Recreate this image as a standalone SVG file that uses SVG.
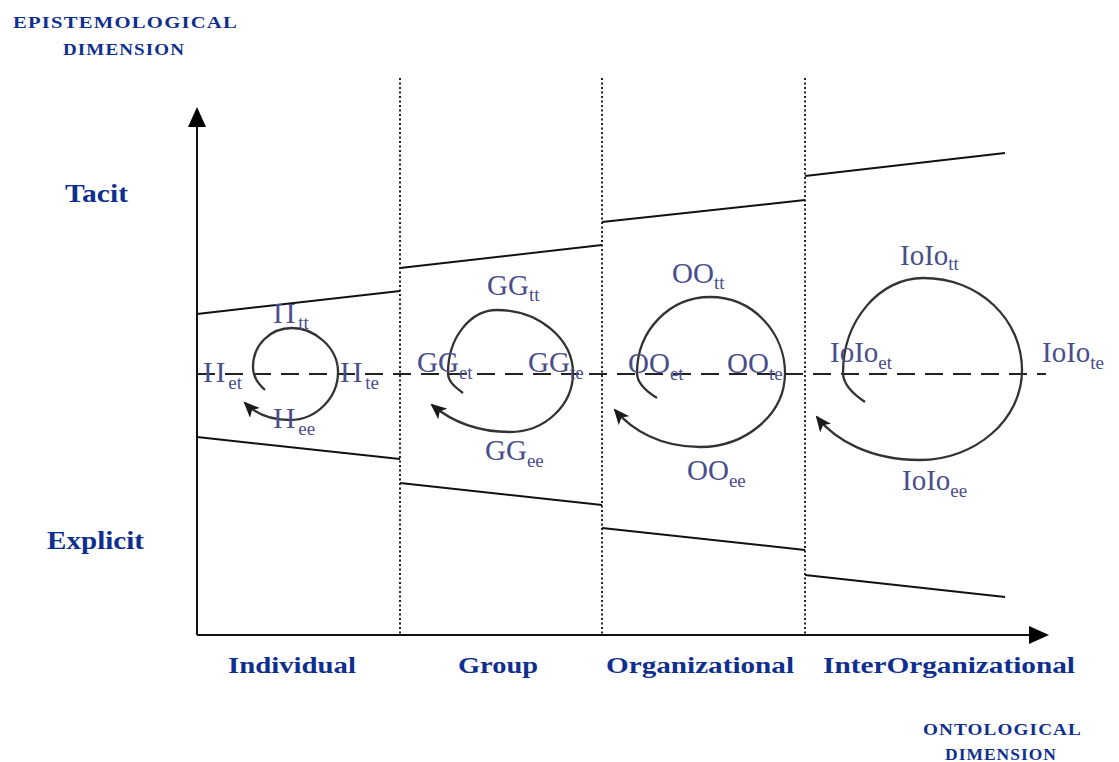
<svg xmlns="http://www.w3.org/2000/svg" width="1119" height="762" viewBox="0 0 1119 762">
<style>
.ax{font-family:"Liberation Serif","Times New Roman",serif;font-weight:bold;fill:#0f2f8f}
.big{font-size:26px}
.cat{font-size:24px}
.dim{font-size:17px;letter-spacing:1px}
.lb{font-family:"Liberation Serif","Times New Roman",serif;font-size:29px;fill:#4a4d8c}
.sub{font-size:19px}
.ln{stroke:#111;stroke-width:2;fill:none}
.dot{stroke:#222;stroke-width:2;stroke-dasharray:2 2.5;fill:none}
.sp{stroke:#333;stroke-width:2.3;fill:none;marker-end:url(#ah)}
</style>
<defs>
<marker id="ah" markerUnits="userSpaceOnUse" markerWidth="18" markerHeight="14" refX="14" refY="7" orient="auto">
<path d="M0,0 L16,7 L0,14 L4,7 Z" fill="#1a1a1a"/>
</marker>
</defs>
<rect width="1119" height="762" fill="#fff"/>
<g id="axes">
<line class="ln" x1="197" y1="635" x2="197" y2="125" stroke-width="3"/>
<path d="M197,107 L188,127 L206,127 Z" fill="#000"/>
<line class="ln" x1="197" y1="635" x2="1030" y2="635" stroke-width="3"/>
<path d="M1049,635 L1029,626 L1029,644 Z" fill="#000"/>
</g>
<g id="dividers">
<line class="dot" x1="400" y1="78" x2="400" y2="635"/>
<line class="dot" x1="602" y1="78" x2="602" y2="635"/>
<line class="dot" x1="805" y1="78" x2="805" y2="635"/>
<line x1="197" y1="374" x2="1046" y2="374" stroke="#222" stroke-width="2" stroke-dasharray="18 10"/>
</g>
<g id="boundaries">
<line class="ln" x1="197" y1="314" x2="400" y2="291"/>
<line class="ln" x1="400" y1="268" x2="602" y2="245"/>
<line class="ln" x1="602" y1="222" x2="805" y2="200"/>
<line class="ln" x1="805" y1="176" x2="1005" y2="153"/>
<line class="ln" x1="197" y1="437" x2="400" y2="459"/>
<line class="ln" x1="400" y1="483" x2="602" y2="505"/>
<line class="ln" x1="602" y1="528" x2="805" y2="550"/>
<line class="ln" x1="805" y1="575" x2="1005" y2="597"/>
</g>
<g id="axis-labels">
<text class="ax dim" x="13" y="28" textLength="225" lengthAdjust="spacingAndGlyphs">EPISTEMOLOGICAL</text>
<text class="ax dim" x="63" y="55" textLength="122" lengthAdjust="spacingAndGlyphs">DIMENSION</text>
<text class="ax big" x="65" y="202" textLength="63" lengthAdjust="spacingAndGlyphs">Tacit</text>
<text class="ax big" x="47" y="549" textLength="97" lengthAdjust="spacingAndGlyphs">Explicit</text>
<text class="ax cat" x="228" y="673" textLength="128" lengthAdjust="spacingAndGlyphs">Individual</text>
<text class="ax cat" x="458" y="673" textLength="80" lengthAdjust="spacingAndGlyphs">Group</text>
<text class="ax cat" x="606" y="673" textLength="188" lengthAdjust="spacingAndGlyphs">Organizational</text>
<text class="ax cat" x="823" y="673" textLength="252" lengthAdjust="spacingAndGlyphs">InterOrganizational</text>
<text class="ax dim" x="923" y="735" textLength="159" lengthAdjust="spacingAndGlyphs">ONTOLOGICAL</text>
<text class="ax dim" x="945" y="760" textLength="112" lengthAdjust="spacingAndGlyphs">DIMENSION</text>
</g>
<g id="connectors">
<path class="sp" d="M265,390 C258,384 253,376 253,367 C253,345 270,328 292,328 C315,328 338,348 338,372 C338,398 316,420 290,420 C270,420 255,413 245,403"/>
<path class="sp" d="M463,393 C452,385 448,380 448,373 C448,338 470,310 497,310 C540,310 573,340 573,373 C573,405 545,432 510,432 C475,432 450,420 432,405"/>
<path class="sp" d="M657,398 C644,390 637,382 637,373 C637,330 670,297 710,297 C755,297 785,335 785,373 C785,415 745,447 700,447 C660,447 632,430 615,410"/>
<path class="sp" d="M865,402 C850,392 843,383 843,373 C843,320 880,278 923,278 C980,278 1022,320 1022,370 C1022,420 975,460 920,460 C870,460 835,440 817,417"/>
</g>
<g id="individual">
<text class="lb" x="273" y="323"><tspan letter-spacing="3">II</tspan><tspan class="sub" dy="6">tt</tspan></text>
<text class="lb" x="203" y="382"><tspan letter-spacing="3">II</tspan><tspan class="sub" dy="7">et</tspan></text>
<text class="lb" x="340" y="382"><tspan letter-spacing="3">II</tspan><tspan class="sub" dy="7">te</tspan></text>
<text class="lb" x="273" y="428"><tspan letter-spacing="3">II</tspan><tspan class="sub" dy="7">ee</tspan></text>
</g>
<g id="group">
<text class="lb" x="487" y="295">GG<tspan class="sub" dy="6">tt</tspan></text>
<text class="lb" x="417" y="372">GG<tspan class="sub" dy="7">et</tspan></text>
<text class="lb" x="528" y="372">GG<tspan class="sub" dy="7">te</tspan></text>
<text class="lb" x="485" y="460">GG<tspan class="sub" dy="7">ee</tspan></text>
</g>
<g id="organizational">
<text class="lb" x="672" y="283">OO<tspan class="sub" dy="6">tt</tspan></text>
<text class="lb" x="628" y="373">OO<tspan class="sub" dy="7">et</tspan></text>
<text class="lb" x="727" y="373">OO<tspan class="sub" dy="7">te</tspan></text>
<text class="lb" x="687" y="480">OO<tspan class="sub" dy="7">ee</tspan></text>
</g>
<g id="interorganizational">
<text class="lb" x="900" y="265">IoIo<tspan class="sub" dy="5">tt</tspan></text>
<text class="lb" x="830" y="362">IoIo<tspan class="sub" dy="7">et</tspan></text>
<text class="lb" x="1042" y="362">IoIo<tspan class="sub" dy="7">te</tspan></text>
<text class="lb" x="902" y="490">IoIo<tspan class="sub" dy="7">ee</tspan></text>
</g>
</svg>
